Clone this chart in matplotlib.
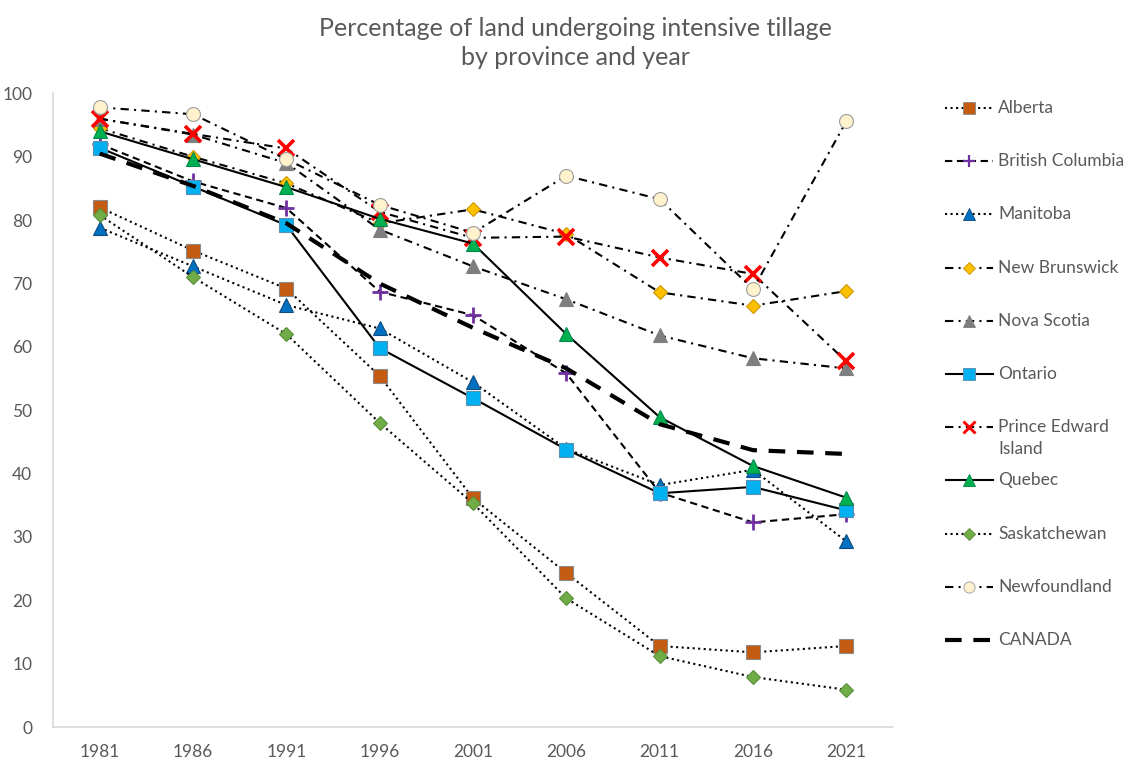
import matplotlib.pyplot as plt
from matplotlib.lines import Line2D

plt.rcParams['font.family'] = ['Lato', 'DejaVu Sans']

years = ['1981', '1986', '1991', '1996', '2001', '2006', '2011', '2016', '2021']

alberta = [82.0, 75.2, 69.2, 55.4, 36.1, 24.3, 12.8, 11.8, 12.8]
british_columbia = [92.0, 86.1, 81.9, 68.7, 65.0, 55.8, 37.0, 32.3, 33.6]
manitoba = [78.8, 72.7, 66.6, 62.9, 54.4, 43.9, 38.2, 40.6, 29.3]
new_brunswick = [94.5, 90.0, 85.8, 79.5, 81.7, 77.8, 68.6, 66.5, 68.8]
nova_scotia = [96.0, 93.5, 89.0, 78.5, 72.7, 67.5, 61.8, 58.2, 56.6]
ontario = [91.4, 85.3, 79.2, 59.8, 51.9, 43.8, 36.9, 37.9, 34.2]
pei = [96.0, 93.6, 91.3, 81.3, 77.2, 77.4, 74.1, 71.5, 57.7]
quebec = [94.0, 89.6, 85.2, 80.2, 76.3, 62.0, 48.9, 41.2, 36.2]
saskatchewan = [80.8, 71.0, 62.0, 48.0, 35.3, 20.3, 11.2, 7.9, 5.9]
newfoundland = [97.8, 96.7, 89.6, 82.4, 78.0, 87.0, 83.3, 69.1, 95.6]
canada = [90.5, 85.4, 79.5, 70.0, 63.0, 56.6, 47.8, 43.7, 43.1]

dashdot = (0, (4, 2.5, 1, 2.5))

# name, values, line style, line width, marker, face color, edge color, size, edge width
series = [
    ('Alberta', alberta, ':', 1.5, 's', '#C55A11', '#8C8C8C', 10, 0.8),
    ('British Columbia', british_columbia, (0, (3.5, 2.2)), 1.5, '+', '#7030A0', '#7030A0', 11, 2.0),
    ('Manitoba', manitoba, ':', 1.5, '^', '#0070C0', '#0F4C81', 10, 0.8),
    ('New Brunswick', new_brunswick, dashdot, 1.5, 'D', '#FFC000', '#C99700', 7.5, 0.8),
    ('Nova Scotia', nova_scotia, dashdot, 1.5, '^', '#7F7F7F', '#7F7F7F', 10, 0.8),
    ('Ontario', ontario, '-', 1.5, 's', '#00B0F0', '#5A8FAF', 10, 0.8),
    ('Prince Edward\nIsland', pei, dashdot, 1.5, 'x', '#FF0000', '#FF0000', 11, 2.6),
    ('Quebec', quebec, '-', 1.5, '^', '#00B050', '#00874A', 10, 0.8),
    ('Saskatchewan', saskatchewan, ':', 1.5, 'D', '#70AD47', '#5B8F3A', 7.5, 0.8),
    ('Newfoundland', newfoundland, dashdot, 1.5, 'o', '#FFF2CC', '#9E9E9E', 10, 0.8),
    ('CANADA', canada, (0, (4, 2.8)), 3.0, None, 'black', 'black', 0, 0),
]

fig = plt.figure(figsize=(11.29, 7.59), dpi=100)
ax = fig.add_axes([0.047, 0.042, 0.744, 0.835])

x = list(range(len(years)))
for name, vals, ls, lw, mk, fc, ec, ms, mew in series:
    ax.plot(x, vals, color='black', linestyle=ls, linewidth=lw, marker=mk,
            markerfacecolor=fc, markeredgecolor=ec, markersize=ms,
            markeredgewidth=mew)

ax.set_xlim(-0.5, len(years) - 0.5)
ax.set_ylim(0, 100)
ax.set_xticks(x)
ax.set_xticklabels(years)
ax.set_yticks(range(0, 101, 10))
ax.tick_params(axis='both', length=0, labelsize=12.5, labelcolor='#595959')
ax.tick_params(axis='x', pad=12)
ax.tick_params(axis='y', pad=15)
for side in ['top', 'right']:
    ax.spines[side].set_visible(False)
for side in ['left', 'bottom']:
    ax.spines[side].set_color('#D9D9D9')
    ax.spines[side].set_linewidth(1.2)

fig.text(0.51, 0.977, 'Percentage of land undergoing intensive tillage\nby province and year',
         ha='center', va='top', fontsize=18, color='#595959', linespacing=1.3)

# legend drawn in its own axes
lax = fig.add_axes([0.837, 0.0, 0.163, 1.0])
lax.set_xlim(0, 1)
lax.set_ylim(759, 0)
lax.axis('off')
for i, (name, vals, ls, lw, mk, fc, ec, ms, mew) in enumerate(series):
    y = 108 + 53.2 * i
    lax.add_line(Line2D([0.0, 0.26], [y, y], color='black', linestyle=ls, linewidth=lw))
    if mk is not None:
        lax.plot([0.13], [y], linestyle='none', marker=mk, markerfacecolor=fc,
                 markeredgecolor=ec, markersize=ms * 0.8, markeredgewidth=mew * 0.8)
    lax.text(0.29, y - 8, name, ha='left', va='top', fontsize=12.5,
             color='#595959', linespacing=1.45)

fig.savefig('out.png', dpi=100)
